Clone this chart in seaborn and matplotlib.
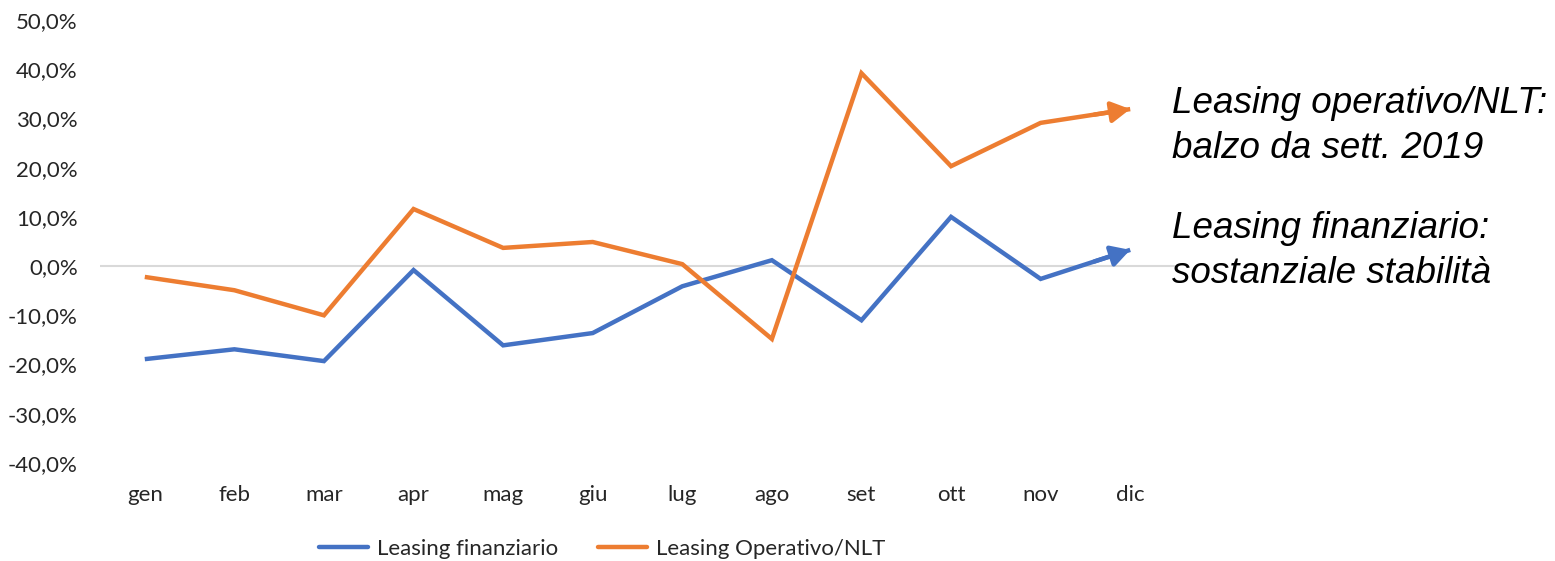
import numpy as np
import pandas as pd
import matplotlib.pyplot as plt
import seaborn as sns

months = ["gen", "feb", "mar", "apr", "mag", "giu", "lug", "ago", "set", "ott", "nov", "dic"]
finanziario = [-18.9, -16.9, -19.3, -0.8, -16.1, -13.6, -4.1, 1.2, -11.0, 10.0, -2.6, 3.3]
operativo = [-2.2, -4.9, -10.0, 11.6, 3.7, 4.9, 0.4, -14.8, 39.2, 20.3, 29.1, 31.9]
series_names = ["Leasing finanziario", "Leasing Operativo/NLT"]
colors = ["#4472C4", "#ED7D31"]
y_ticks = [-40, -30, -20, -10, 0, 10, 20, 30, 40, 50]
notes = ["Leasing operativo/NLT:", "balzo da sett. 2019",
         "Leasing finanziario:", "sostanziale stabilità"]

sns.set_theme(style="white")
plt.rcParams["font.family"] = ["Lato", "DejaVu Sans"]

df = pd.DataFrame({
    "mese": months * 2,
    "valore": finanziario + operativo,
    "serie": [series_names[0]] * 12 + [series_names[1]] * 12,
})

fig = plt.figure(figsize=(15.55, 5.61), dpi=100)
ax = fig.add_axes([100 / 1555, 1 - 463 / 561, 1075 / 1555, 443 / 561])

ax.axhline(0, color="#D9D9D9", lw=1.5, zorder=1)
sns.lineplot(data=df, x="mese", y="valore", hue="serie", palette=colors,
             linewidth=3.2, ax=ax, sort=False, legend=False, zorder=3)
for line in ax.lines:
    line.set_solid_capstyle("butt")
    line.set_solid_joinstyle("miter")

# arrowheads at the end of each series
for vals, c in zip([finanziario, operativo], colors):
    ax.annotate("", xy=(11, vals[-1]), xytext=(10.6, vals[-1] - 0.4 * (vals[-1] - vals[-2])),
                arrowprops=dict(arrowstyle="-|>,head_length=0.75,head_width=0.42", color=c,
                                lw=3.2, mutation_scale=15, shrinkA=0, shrinkB=0),
                zorder=4)

ax.set_xlim(-0.5, 11.5)
ax.set_ylim(-40, 50)
ax.set_yticks(y_ticks)
ax.set_yticklabels([f"{v},0%" for v in y_ticks])
ax.set_xlabel("")
ax.set_ylabel("")
ax.tick_params(axis="both", length=0, labelsize=16, labelcolor="#262626")
ax.tick_params(axis="x", pad=16)
ax.tick_params(axis="y", pad=16)
for s in ax.spines.values():
    s.set_visible(False)

# legend
handles = [plt.Line2D([], [], color=c, lw=3.2) for c in colors]
fig.legend(handles, series_names, loc="center", bbox_to_anchor=(602 / 1555, 1 - 549 / 561),
           ncol=2, frameon=False, fontsize=16, handlelength=2.2, columnspacing=1.8,
           handletextpad=0.4, labelcolor="#262626")

for txt, yb in zip(notes, [113, 158, 238, 283]):
    fig.text(1172 / 1555, 1 - yb / 561, txt, fontsize=26.5, style="italic",
             family="Liberation Sans", va="baseline", ha="left", color="black")

fig.savefig("out.png", dpi=100)
